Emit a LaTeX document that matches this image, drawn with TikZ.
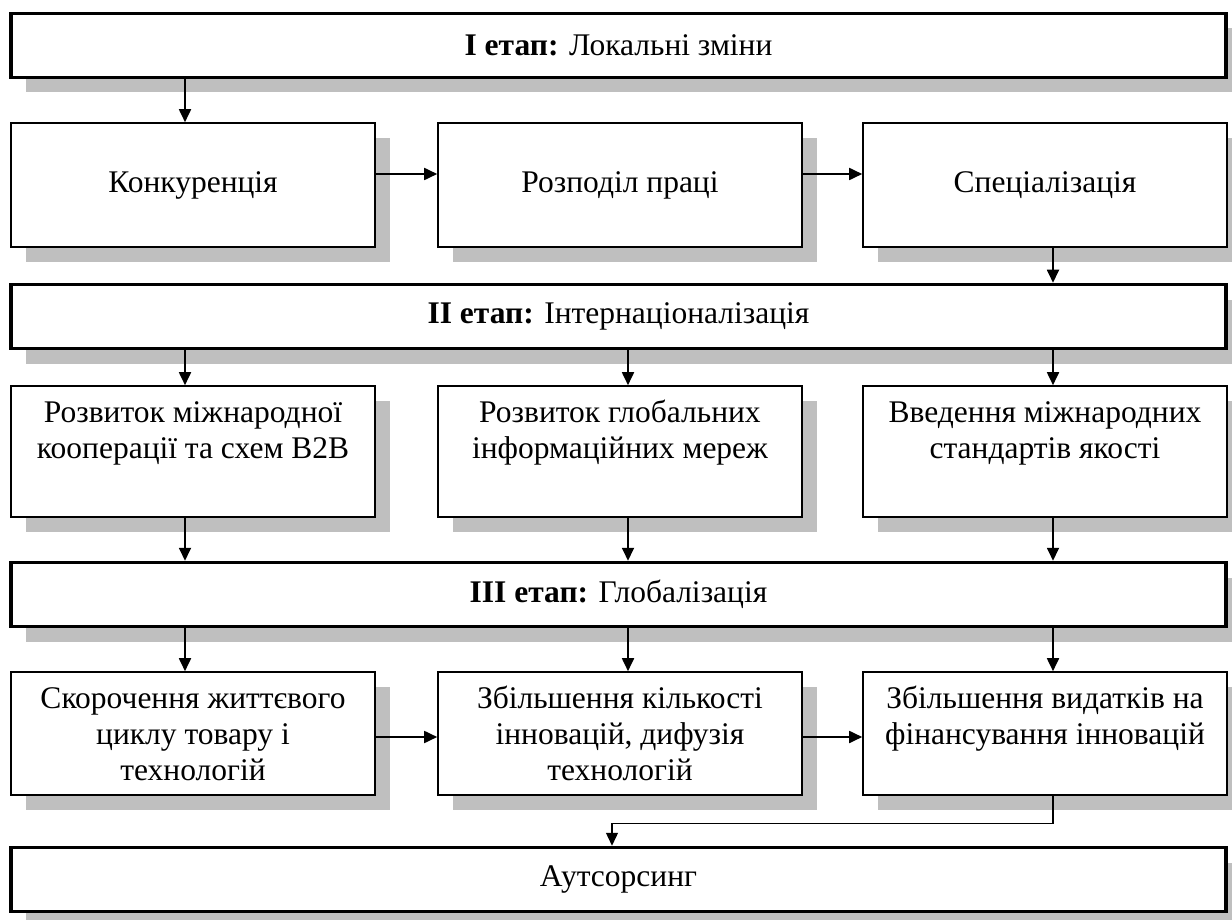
\documentclass[tikz,border=0pt]{standalone}
\usepackage{fontspec}
\setmainfont{Liberation Serif}
\usetikzlibrary{arrows.meta,shadows}

% fixed-height strut that pins the first baseline of a text block
\newcommand{\firststrut}{\rule{0pt}{24pt}}

\begin{document}
\begin{tikzpicture}[x=1pt,y=-1pt]
\tikzset{
  shade15/.style={drop shadow={shadow xshift=15pt, shadow yshift=-15pt, fill=black!25, opacity=1}},
  stagebox/.style={draw, line width=3.5pt, fill=white, shade15,
    minimum width=1215pt, minimum height=64pt, inner sep=0pt,
    font=\fontsize{31.5}{36}\selectfont},
  stepbox/.style={draw, line width=1.6pt, fill=white, shade15,
    minimum width=364pt, inner sep=0pt,
    font=\fontsize{31.5}{36}\selectfont},
  boxtext/.style={anchor=north, inner sep=0pt, align=center,
    font=\fontsize{31.5}{36}\selectfont},
  arr/.style={line width=1.8pt, -{Triangle[length=13pt,width=12pt]}},
  thinarr/.style={line width=1.3pt, -{Triangle[length=13pt,width=12pt]}},
}
\useasboundingbox (0,0) rectangle (1232,920);

% arrow columns
\coordinate (cL) at (185,0);
\coordinate (cM) at (628,0);
\coordinate (cR) at (1053,0);
\coordinate (cO) at (612,0);

% stage banners
\node[stagebox] (s1) at (618.5,45.5) {\textbf{I етап:} Локальні зміни};
\node[stagebox] (s2) at (618.5,316.5) {\textbf{II етап:} Інтернаціоналізація};
\node[stagebox] (s3) at (618.5,594.5) {\textbf{III етап:} Глобалізація};
\node[stagebox] (s4) at (618.5,879.5) {Аутсорсинг};

% row 1
\node[stepbox, minimum height=124pt] (b11) at (193,185) {Конкуренція};
\node[stepbox, minimum height=124pt] (b12) at (620,185) {Розподіл праці};
\node[stepbox, minimum height=124pt] (b13) at (1045,185) {Спеціалізація};

% row 2
\node[stepbox, minimum height=131pt] (b21) at (193,451.5) {};
\node[stepbox, minimum height=131pt] (b22) at (620,451.5) {};
\node[stepbox, minimum height=131pt] (b23) at (1045,451.5) {};
\node[boxtext] (t21) at ([yshift=-13pt]b21.north) {\firststrut Розвиток міжнародної\\кооперації та схем B2B};
\node[boxtext] (t22) at ([yshift=-13pt]b22.north) {\firststrut Розвиток глобальних\\інформаційних мереж};
\node[boxtext] (t23) at ([yshift=-13pt]b23.north) {\firststrut Введення міжнародних\\стандартів якості};

% row 3
\node[stepbox, minimum height=123pt] (b31) at (193,733.5) {};
\node[stepbox, minimum height=123pt] (b32) at (620,733.5) {};
\node[stepbox, minimum height=123pt] (b33) at (1045,733.5) {};
\node[boxtext] (t31) at ([yshift=-13pt]b31.north) {\firststrut Скорочення життєвого\\циклу товару і\\технологій};
\node[boxtext] (t32) at ([yshift=-13pt]b32.north) {\firststrut Збільшення кількості\\інновацій, дифузія\\технологій};
\node[boxtext] (t33) at ([yshift=-13pt]b33.north) {\firststrut Збільшення видатків на\\фінансування інновацій};

% connectors
\draw[arr] (s1.south -| cL) -- (b11.north -| cL);
\draw[arr] ([yshift=11pt]b11.east) -- ([yshift=11pt]b12.west);
\draw[arr] ([yshift=11pt]b12.east) -- ([yshift=11pt]b13.west);
\draw[arr] (b13.south -| cR) -- (s2.north -| cR);

\draw[arr] (s2.south -| cL) -- (b21.north -| cL);
\draw[arr] (s2.south -| cM) -- (b22.north -| cM);
\draw[arr] (s2.south -| cR) -- (b23.north -| cR);

\draw[arr] (b21.south -| cL) -- (s3.north -| cL);
\draw[arr] (b22.south -| cM) -- (s3.north -| cM);
\draw[arr] (b23.south -| cR) -- (s3.north -| cR);

\draw[arr] (s3.south -| cL) -- (b31.north -| cL);
\draw[arr] (s3.south -| cM) -- (b32.north -| cM);
\draw[arr] (s3.south -| cR) -- (b33.north -| cR);

\draw[arr] ([yshift=-3.5pt]b31.east) -- ([yshift=-3.5pt]b32.west);
\draw[arr] ([yshift=-3.5pt]b32.east) -- ([yshift=-3.5pt]b33.west);

\draw[thinarr] (b33.south -| cR) -- ++(0,28) -| (s4.north -| cO);
\end{tikzpicture}
\end{document}
